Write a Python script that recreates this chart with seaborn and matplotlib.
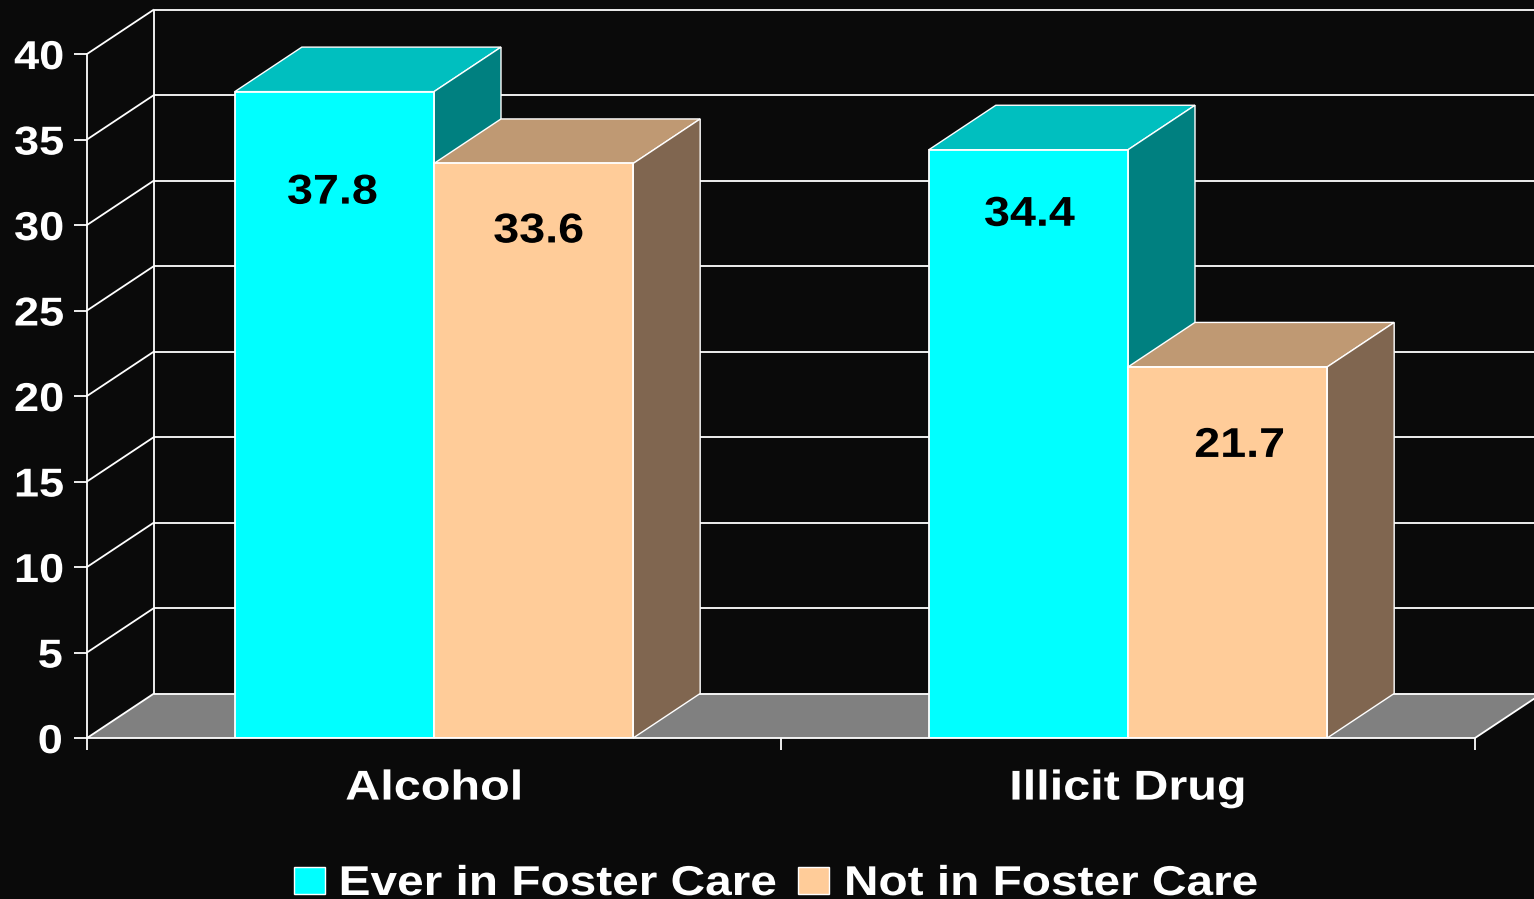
import matplotlib
matplotlib.use("Agg")
import matplotlib.pyplot as plt
import pandas as pd
import seaborn as sns
from matplotlib.patches import Patch, Polygon
from matplotlib.patheffects import AbstractPathEffect
from matplotlib.transforms import Affine2D

categories = ["Alcohol", "Illicit Drug"]
groups = ["Ever in Foster Care", "Not in Foster Care"]
ever_values = [37.8, 34.4]
not_values = [33.6, 21.7]
y_ticks = [0, 5, 10, 15, 20, 25, 30, 35, 40]

BG = "#0a0a0a"
FRONT = ["#00ffff", "#ffcc99"]
TOP = ["#00bfbf", "#bf9973"]
SIDE = ["#008080", "#806650"]
FLOOR = "#808080"

W, H = 1534, 899
L, R, T, B = 87, 1475, 54, 738  # front plane in pixels
DX_PX, DY_PX = 67, 44.5

# label offsets from the bar top centre, in pixels
label_shift = [[(-2, 101), (1, 65)], [(5, 68), (12, 79)]]


class StretchX(AbstractPathEffect):
    # the original text is wider than the installed font, widen glyphs about their centre
    def __init__(self, sx):
        super().__init__()
        self.sx = sx

    def draw_path(self, renderer, gc, tpath, affine, rgbFace=None):
        cx = tpath.get_extents().x0 / 2 + tpath.get_extents().x1 / 2
        stretch = Affine2D().translate(-cx, 0).scale(self.sx, 1).translate(cx, 0)
        renderer.draw_path(gc, tpath, stretch + affine, rgbFace)


sns.set_theme(style="dark")
plt.rcParams["font.family"] = ["Liberation Sans", "DejaVu Sans"]
plt.rcParams["font.weight"] = "bold"

df = pd.DataFrame({
    "category": categories * 2,
    "group": [groups[0]] * 2 + [groups[1]] * 2,
    "value": ever_values + not_values,
})

fig = plt.figure(figsize=(W / 100, H / 100), dpi=100, facecolor=BG)
ax = fig.add_axes([L / W, 1 - B / H, (R - L) / W, (B - T) / H], facecolor="none")

sns.barplot(data=df, x="category", y="value", hue="group", order=categories,
            hue_order=groups, palette=FRONT, width=0.574, gap=0, saturation=1,
            edgecolor="white", linewidth=1.3, legend=False, ax=ax, zorder=5)
ax.set_xlim(-0.5, 1.5)
ax.set_ylim(0, 40)

# depth of the fake 3d in data units
dx = DX_PX / (R - L) * 2
dy = DY_PX / (B - T) * 40
line = dict(color="white", lw=1.3, clip_on=False, solid_capstyle="butt")

# floor, walls and grid
ax.add_patch(Polygon([(-0.5, 0), (-0.5 + dx, dy), (1.5 + dx, dy), (1.5, 0)],
                     facecolor=FLOOR, edgecolor="none", clip_on=False, zorder=1))
for v in y_ticks:
    ax.plot([-0.5, -0.5 + dx], [v, v + dy], zorder=2, **line)
    ax.plot([-0.5 + dx, 1.5 + dx], [v + dy, v + dy], zorder=2, **line)
ax.plot([-0.5 + dx, -0.5 + dx], [dy, 40 + dy], zorder=2, **line)
ax.plot([1.5, 1.5 + dx], [0, dy], zorder=2, **line)

# top and side faces from each drawn bar
for i, container in enumerate(ax.containers):
    for j, b in enumerate(container):
        x0, x1, h = b.get_x(), b.get_x() + b.get_width(), b.get_height()
        ax.add_patch(Polygon([(x0, h), (x0 + dx, h + dy), (x1 + dx, h + dy), (x1, h)],
                             facecolor=TOP[i], edgecolor="white", lw=1, clip_on=False, zorder=3 + i))
        ax.add_patch(Polygon([(x1, 0), (x1 + dx, dy), (x1 + dx, h + dy), (x1, h)],
                             facecolor=SIDE[i], edgecolor="white", lw=1, clip_on=False, zorder=3 + i))
        sx_px, sy_px = label_shift[i][j]
        ax.annotate(f"{h}", ((x0 + x1) / 2, h), xytext=(sx_px * 0.72, -sy_px * 0.72),
                    textcoords="offset points", ha="center", va="center", fontsize=30,
                    color="black", fontweight="bold", zorder=8,
                    path_effects=[StretchX(1.12)])

for s in ["top", "right"]:
    ax.spines[s].set_visible(False)
for s in ["left", "bottom"]:
    ax.spines[s].set_color("white")
    ax.spines[s].set_linewidth(1.3)
    ax.spines[s].set_zorder(6)

ax.set_xlabel("")
ax.set_ylabel("")
ax.set_yticks(y_ticks)
ax.set_xticks([-0.5, 0.5, 1.5])
ax.set_xticklabels([])
ax.set_xticks([0, 1], categories, minor=True)
ax.tick_params(axis="y", colors="white", labelsize=29, length=9.4, width=1.3, pad=9, left=True)
ax.tick_params(axis="x", which="major", colors="white", length=8.6, width=1.3, bottom=True)
ax.tick_params(axis="x", which="minor", colors="white", labelsize=30, length=0, pad=22, bottom=False)
for t in ax.get_xticklabels(minor=True):
    t.set_fontweight("bold")
    t.set_path_effects([StretchX(1.165)])
for t in ax.get_yticklabels():
    t.set_fontweight("bold")
    t.set_path_effects([StretchX(1.12)])

handles = [Patch(facecolor=c, edgecolor="white", lw=1) for c in FRONT]
leg = fig.legend(handles, groups, loc="lower center", ncol=2, frameon=False, fontsize=30,
                 labelcolor="white", bbox_to_anchor=(763 / W, -5 / H), borderpad=0,
                 borderaxespad=0, handlelength=0.74, handleheight=0.62, handletextpad=1.0,
                 columnspacing=1.18)
for t in leg.get_texts():
    t.set_path_effects([StretchX(1.147)])

fig.savefig("out.png", dpi=100, facecolor=BG)
